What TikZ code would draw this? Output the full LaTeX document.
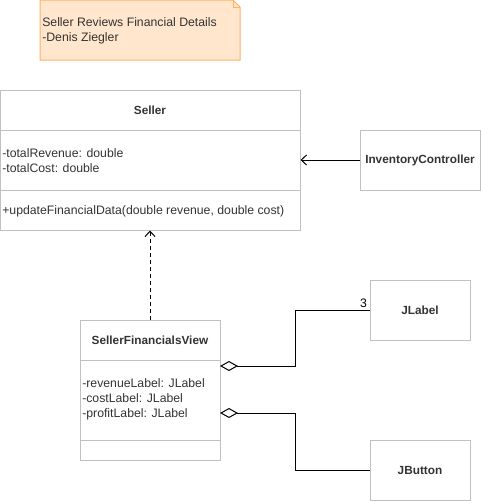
\documentclass[tikz,border=0pt]{standalone}
\usepackage{fontspec}
\setmainfont{Liberation Sans}
\usetikzlibrary{arrows.meta}
\definecolor{notefill}{HTML}{FFE6CC}
\definecolor{noteline}{HTML}{FFB366}
\definecolor{boxline}{HTML}{C0C0C0}
\definecolor{txt}{HTML}{333333}
\tikzset{
  classbox/.style={draw=boxline, line width=0.75pt, inner sep=0pt, rectangle},
  sepline/.style={draw=boxline, line width=0.75pt},
  txtnode/.style={text=txt, inner sep=0pt, font=\fontsize{9.2pt}{11.25pt}\selectfont},
  hdnode/.style={txtnode, font=\fontsize{8.85pt}{11.25pt}\selectfont\bfseries},
  attrnode/.style={txtnode, anchor=west, align=left},
  assoc/.style={draw=black, line width=0.75pt, -{Straight Barb[length=4pt,width=7.5pt]}},
  depend/.style={assoc, dash pattern={on 3pt off 2.25pt}},
  aggr/.style={draw=black, line width=0.75pt, {Diamond[open,length=13.5pt,width=7.5pt]}-}
}
\begin{document}
\begin{tikzpicture}[x=0.75pt,y=0.75pt,yscale=-1]
\useasboundingbox (0,0) rectangle (481,501);

%Shape: Note
\draw [fill=notefill, draw=noteline, line width=0.75pt] (40,0) -- (233,0) -- (240,7) -- (240,60) -- (40,60) -- cycle ;
\draw [draw=noteline, line width=0.75pt] (233,0) -- (233,7) -- (240,7) ;
% Text Node
\node (note) [txtnode, anchor=west, align=left] at (42,30.5) {Seller Reviews Financial Details\\-Denis Ziegler};

%Shape: Class Seller
\node (seller) [classbox, minimum width=225pt, minimum height=105pt] at (150,160) {};
\draw [sepline] (0,130) -- (300,130) (0,190) -- (300,190) ;
% Text Node
\node (sellerhd) [hdnode] at (150,110) {Seller};
\node (sellerattr) [attrnode] at (2,160.5) {-totalRevenue: double\\-totalCost: double};
\node (sellerop) [attrnode] at (2,211) {+updateFinancialData(double revenue, double cost)};

%Shape: Class InventoryController
\node (ctrl) [classbox, minimum width=90pt, minimum height=45pt] at (420,160) {};
\node (ctrlhd) [hdnode] at (420,160) {InventoryController};

%Shape: Class SellerFinancialsView
\node (sfv) [classbox, minimum width=105pt, minimum height=105pt] at (150,390) {};
\draw [sepline] (80,360) -- (220,360) (80,440) -- (220,440) ;
% Text Node
\node (sfvhd) [hdnode] at (150,340) {SellerFinancialsView};
\node (sfvattr) [attrnode] at (82,399) {-revenueLabel: JLabel\\-costLabel: JLabel\\-profitLabel: JLabel};

%Shape: Class JLabel
\node (jlabel) [classbox, minimum width=75pt, minimum height=45pt] at (420,310) {};
\node (jlabelhd) [hdnode] at (420,310) {JLabel};

%Shape: Class JButton
\node (jbutton) [classbox, minimum width=75pt, minimum height=45pt] at (420,470) {};
\node (jbuttonhd) [hdnode] at (420,470) {JButton};

%Connectors
\draw [assoc] (ctrl.west) -- (seller.east) ;
\draw [depend] (sfv.north) -- (seller.south) ;
\coordinate (agg1) at (220,366);
\coordinate (agg2) at (220,413);
\draw [aggr] (agg1) -- ++(75,0) |- (jlabel.west) node [pos=1, anchor=south east, inner sep=1.5pt, font=\fontsize{9.2pt}{10pt}\selectfont] {3} ;
\draw [aggr] (agg2) -- ++(75,0) |- (jbutton.west) ;

\end{tikzpicture}
\end{document}
